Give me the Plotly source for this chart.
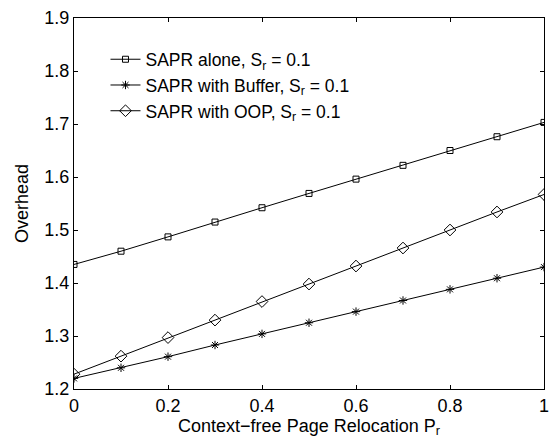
import plotly.graph_objects as go

x_vals = [0, 0.1, 0.2, 0.3, 0.4, 0.5, 0.6, 0.7, 0.8, 0.9, 1.0]
sapr_alone = [1.435, 1.460, 1.487, 1.515, 1.542, 1.569, 1.596, 1.622, 1.650, 1.676, 1.703]
sapr_buffer = [1.220, 1.240, 1.261, 1.283, 1.304, 1.325, 1.346, 1.367, 1.388, 1.409, 1.430]
sapr_oop = [1.228, 1.262, 1.297, 1.330, 1.365, 1.398, 1.432, 1.466, 1.500, 1.534, 1.567]

names = ["SAPR alone, S<sub>r</sub> = 0.1",
         "SAPR with Buffer, S<sub>r</sub> = 0.1",
         "SAPR with OOP, S<sub>r</sub> = 0.1"]
x_ticks = [0, 0.2, 0.4, 0.6, 0.8, 1]
x_labels = ["0", "0.2", "0.4", "0.6", "0.8", "1"]
y_ticks = [1.2, 1.3, 1.4, 1.5, 1.6, 1.7, 1.8, 1.9]
y_labels = ["1.2", "1.3", "1.4", "1.5", "1.6", "1.7", "1.8", "1.9"]

fig = go.Figure()
styles = [("square-open", 6), ("asterisk-open", 7), ("diamond-open", 9)]
for ys, nm, (sym, sz) in zip([sapr_alone, sapr_buffer, sapr_oop], names, styles):
    fig.add_trace(go.Scatter(x=x_vals, y=ys, name=nm, mode="lines+markers",
                             line=dict(color="black", width=1),
                             marker=dict(symbol=sym, size=sz, color="black",
                                         line=dict(color="black", width=1))))

fig.update_layout(
    width=557, height=442,
    margin=dict(l=74, r=8, t=12, b=53),
    paper_bgcolor="white", plot_bgcolor="white",
    font=dict(family="Liberation Sans, Arial, sans-serif", size=18, color="black"),
    showlegend=True,
    legend=dict(x=0.067, y=0.937, xanchor="left", yanchor="top",
                bgcolor="rgba(0,0,0,0)", borderwidth=0,
                font=dict(size=17.5), tracegroupgap=0, itemwidth=30),
)
fig.update_xaxes(range=[0, 1], tickvals=x_ticks, ticktext=x_labels,
                 showgrid=False, zeroline=False, showline=True, linecolor="black",
                 linewidth=1, mirror="allticks", ticks="inside", ticklen=4,
                 tickcolor="black", ticklabelstandoff=0,
                 title=dict(text="Context\u2212free Page Relocation P<sub>r</sub>",
                            standoff=1, font=dict(size=18)))
fig.update_yaxes(range=[1.2, 1.9], tickvals=y_ticks, ticktext=y_labels,
                 showgrid=False, zeroline=False, showline=True, linecolor="black",
                 linewidth=1, mirror="allticks", ticks="inside", ticklen=4,
                 tickcolor="black", ticklabelstandoff=0,
                 title=dict(text="Overhead", standoff=11, font=dict(size=18)))

fig.write_html("out.html")
